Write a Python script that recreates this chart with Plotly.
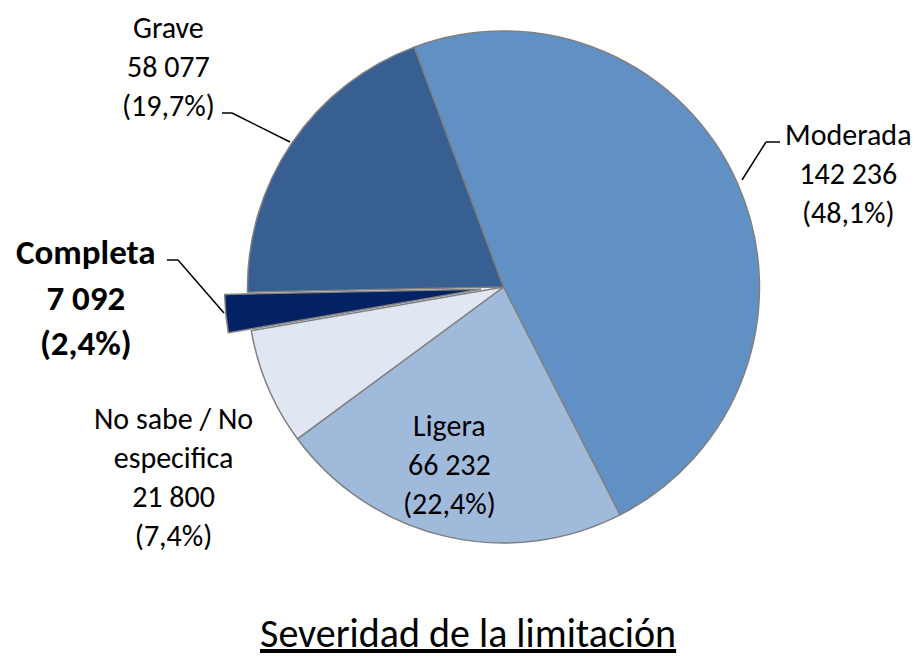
import plotly.graph_objects as go

labels = ['Moderada', 'Ligera', 'No sabe / No especifica', 'Completa', 'Grave']
values = [142236, 66232, 21800, 7092, 58077]
percents = ['48,1%', '22,4%', '7,4%', '2,4%', '19,7%']
colors = ['#6190C5', '#A0BADC', '#E0E7F3', '#032263', '#375F91']
pulls = [0, 0, 0, 0.09, 0]

# the page puts the figure 8px in from the top-left corner
OFF = 8
W, H = 920 - OFF, 660 - OFF
FONT = 'Carlito, Calibri, Lato, sans-serif'


def px(x, y):
    """screen pixel -> paper fraction"""
    fx = min(max((x - OFF) / W, 0), 1)
    fy = min(max(1 - (y - OFF) / H, 0), 1)
    return fx, fy


def fmt(v):
    return f'{v:,}'.replace(',', ' ')


fig = go.Figure()

# pie centre ~ (503.5, 287), radius ~256 on screen
x0, y0 = px(224.5, 566)
x1, y1 = px(782.5, 8)
fig.add_trace(go.Pie(
    labels=labels,
    values=values,
    sort=False,
    direction='clockwise',
    rotation=-20.4,
    pull=pulls,
    marker=dict(colors=colors, line=dict(color='#808080', width=1.5)),
    textinfo='none',
    hoverinfo='label+value+percent',
    showlegend=False,
    domain=dict(x=[x0, x1], y=[y0, y1]),
))

# label text blocks (centre positions in screen pixels)
label_pos = {
    'Moderada': (848, 173),
    'Ligera': (449, 464),
    'No sabe / No especifica': (173, 477),
    'Completa': (86, 297),
    'Grave': (168, 66),
}

annotations = []
for name, val, pct in zip(labels, values, percents):
    x, y = px(*label_pos[name])
    shown = name.replace(' / No especifica', ' / No<br>especifica')
    text = f'{shown}<br>{fmt(val)}<br>({pct})'
    bold = name == 'Completa'
    if bold:
        text = f'<b>{text}</b>'
    annotations.append(dict(
        x=x, y=y, xref='paper', yref='paper', text=text, showarrow=False,
        xanchor='center', yanchor='middle', align='center',
        font=dict(family=FONT, size=35 if bold else 30, color='#000000'),
    ))

tx, ty = px(468, 633)
annotations.append(dict(
    x=tx, y=ty, xref='paper', yref='paper',
    text='<u>Severidad de la limitación</u>', showarrow=False,
    xanchor='center', yanchor='middle',
    font=dict(family=FONT, size=40, color='#000000'),
))

# leader lines
leaders = [
    [(222, 113), (232, 113), (290, 142)],
    [(167, 260), (178, 260), (224, 313)],
    [(780, 142), (766, 142), (742, 180)],
]
shapes = []
for pts in leaders:
    for (ax0, ay0), (ax1, ay1) in zip(pts[:-1], pts[1:]):
        a0, b0 = px(ax0, ay0)
        a1, b1 = px(ax1, ay1)
        shapes.append(dict(type='line', xref='paper', yref='paper',
                           x0=a0, y0=b0, x1=a1, y1=b1,
                           line=dict(color='#000000', width=1.5)))

fig.update_layout(
    width=W,
    height=H,
    margin=dict(l=0, r=0, t=0, b=0),
    paper_bgcolor='white',
    plot_bgcolor='white',
    annotations=annotations,
    shapes=shapes,
    font=dict(family=FONT),
)

fig.write_html('out.html')
